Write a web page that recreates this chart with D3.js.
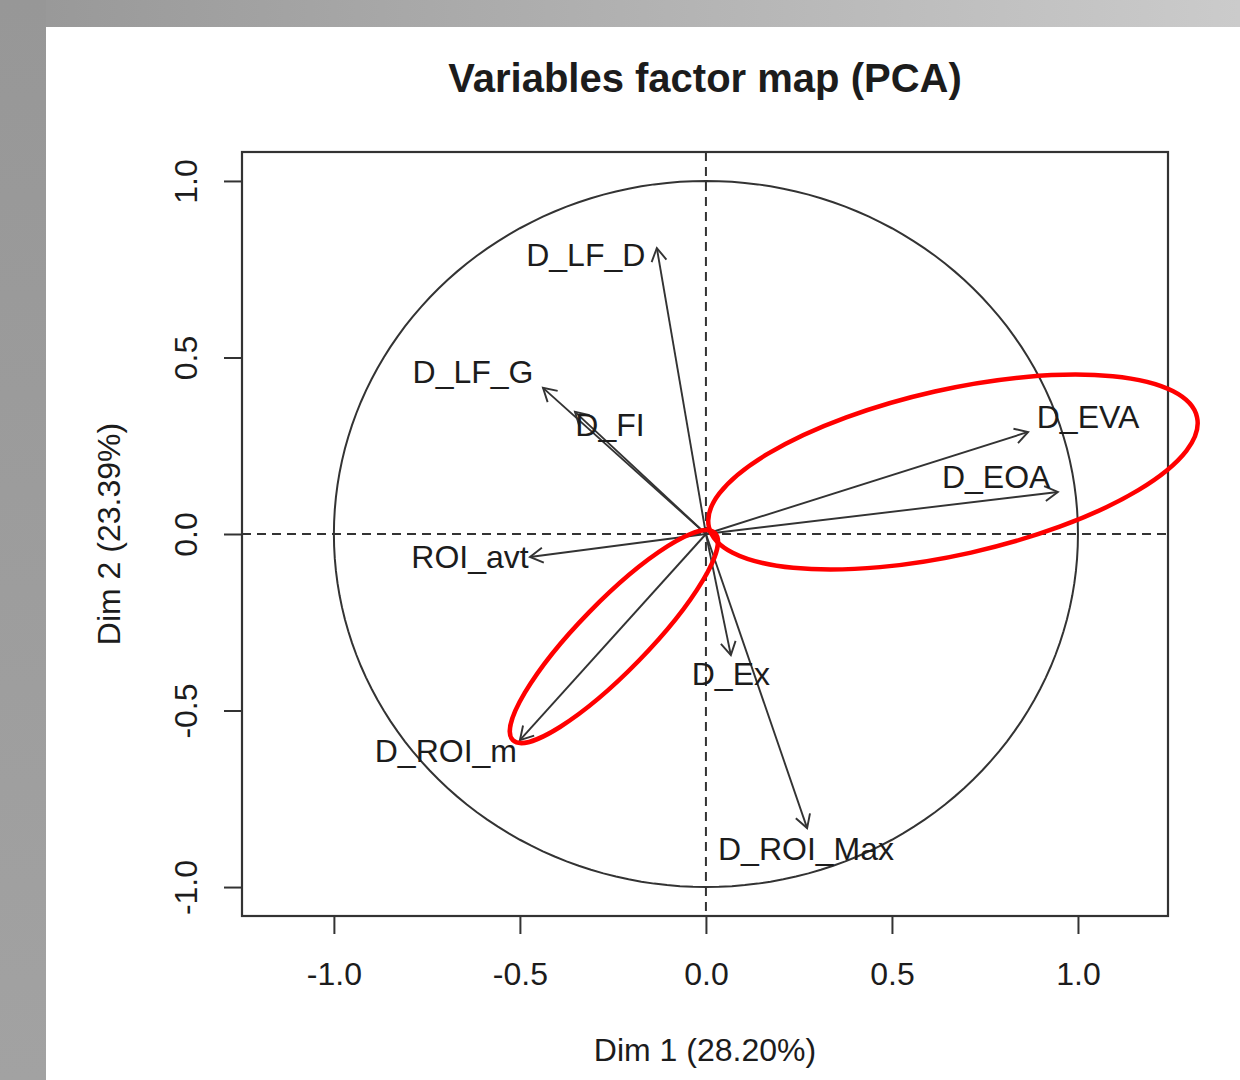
<!DOCTYPE html>
<html lang="en">
<head>
<meta charset="utf-8">
<script src="https://cdn.jsdelivr.net/npm/d3@7/dist/d3.min.js"></script>
<title>Variables factor map (PCA)</title>
<style>
  body { margin: 0; background: #fff; }
  text { font-family: "Liberation Sans", Arial, sans-serif; fill: #1c1c1c; }
</style>
</head>
<body>
<div id="chart"></div>
<script>
// variables and their coordinates on the first two dimensions
var varNames = ["D_LF_D", "D_LF_G", "D_FI", "ROI_avt", "D_ROI_m", "D_Ex", "D_ROI_Max", "D_EVA", "D_EOA"];
var dim1 = [-0.132, -0.438, -0.352, -0.473, -0.500, 0.067, 0.272, 0.866, 0.946];
var dim2 = [0.810, 0.414, 0.346, -0.065, -0.584, -0.343, -0.833, 0.289, 0.119];

// where each label sits (data units)
var labelX = [-0.323, -0.626, -0.258, -0.634, -0.699, 0.067, 0.269, 1.027, 0.780];
var labelY = [0.793, 0.459, 0.309, -0.065, -0.612, -0.394, -0.890, 0.334, 0.164];

var tickValues = [-1.0, -0.5, 0.0, 0.5, 1.0];
var xTitle = "Dim 1 (28.20%)";
var yTitle = "Dim 2 (23.39%)";
var title = "Variables factor map (PCA)";

// red highlight rings: major axis end points (data units) and minor/major ratio
var ringFrom = [[0.008, 0.020], [0.024, 0.003]];
var ringTo = [[1.320, 0.331], [-0.519, -0.584]];
var ringRatio = [0.33, 0.24];

var width = 1240, height = 1080;
var box = {left: 242, right: 1168, top: 152, bottom: 916};

var svg = d3.select("#chart").append("svg")
    .attr("width", width)
    .attr("height", height);

// slide-like background
var defs = svg.append("defs");
var topGrad = defs.append("linearGradient").attr("id", "topGrad");
topGrad.append("stop").attr("offset", "0%").attr("stop-color", "#979797");
topGrad.append("stop").attr("offset", "100%").attr("stop-color", "#cbcbcb");
var leftGrad = defs.append("linearGradient").attr("id", "leftGrad")
    .attr("x1", 0).attr("y1", 0).attr("x2", 0).attr("y2", 1);
leftGrad.append("stop").attr("offset", "0%").attr("stop-color", "#979797");
leftGrad.append("stop").attr("offset", "100%").attr("stop-color", "#a2a2a2");

svg.append("rect").attr("width", width).attr("height", 27).style("fill", "url(#topGrad)");
svg.append("rect").attr("y", 0).attr("width", 46).attr("height", height).style("fill", "url(#leftGrad)");
svg.append("rect").attr("x", 46).attr("y", 27).attr("width", width - 46).attr("height", height - 27).style("fill", "#fff");

// scales
var x = d3.scaleLinear().domain([-1.247, 1.242]).range([box.left, box.right]);
var y = d3.scaleLinear().domain([-1.082, 1.082]).range([box.bottom, box.top]);

// title
svg.append("text")
    .attr("x", 705)
    .attr("y", 92)
    .attr("text-anchor", "middle")
    .style("font-size", "40px")
    .style("font-weight", "bold")
    .text(title);

// axes
var fmt = function(d) { return d.toFixed(1); };

var xAxis = svg.append("g")
    .attr("transform", "translate(0," + box.bottom + ")")
    .call(d3.axisBottom(x).tickValues(tickValues).tickFormat(fmt).tickSize(18).tickPadding(0));
xAxis.select(".domain").remove();
xAxis.selectAll("line").style("stroke", "#333").style("stroke-width", 2);
xAxis.selectAll("text")
    .attr("y", 69).attr("dy", 0)
    .style("font-size", "32px").style("fill", "#1c1c1c");

var yAxis = svg.append("g")
    .attr("transform", "translate(" + box.left + ",0)")
    .call(d3.axisLeft(y).tickValues(tickValues).tickFormat(fmt).tickSize(18).tickPadding(0));
yAxis.select(".domain").remove();
yAxis.selectAll("line").style("stroke", "#333").style("stroke-width", 2);
yAxis.selectAll("text")
    .attr("transform", "rotate(-90)")
    .attr("x", 0).attr("y", -45).attr("dy", 0)
    .attr("text-anchor", "middle")
    .style("font-size", "32px").style("fill", "#1c1c1c");

// axis titles
svg.append("text")
    .attr("x", 705).attr("y", 1061)
    .attr("text-anchor", "middle")
    .style("font-size", "32px")
    .text(xTitle);

svg.append("text")
    .attr("transform", "translate(120," + y(0) + ") rotate(-90)")
    .attr("text-anchor", "middle")
    .style("font-size", "32px")
    .text(yTitle);

// plot box
svg.append("rect")
    .attr("x", box.left).attr("y", box.top)
    .attr("width", box.right - box.left).attr("height", box.bottom - box.top)
    .style("fill", "none").style("stroke", "#333").style("stroke-width", 2.2);

// dashed zero lines
svg.append("line")
    .attr("x1", box.left).attr("x2", box.right)
    .attr("y1", y(0)).attr("y2", y(0))
    .style("stroke", "#333").style("stroke-width", 2).style("stroke-dasharray", "9,6");
svg.append("line")
    .attr("x1", x(0)).attr("x2", x(0))
    .attr("y1", box.top).attr("y2", box.bottom)
    .style("stroke", "#333").style("stroke-width", 2).style("stroke-dasharray", "9,6");

// correlation circle
var circlePts = d3.range(0, 361, 2).map(function(a) {
    var r = a * Math.PI / 180;
    return [Math.cos(r), Math.sin(r)];
});
svg.append("path")
    .datum(circlePts)
    .attr("d", d3.line().x(function(d) { return x(d[0]); }).y(function(d) { return y(d[1]); }))
    .style("fill", "none").style("stroke", "#333").style("stroke-width", 2);

// arrows
var vars = varNames.map(function(n, i) {
    return {name: n, px: dim1[i], py: dim2[i], lx: labelX[i], ly: labelY[i]};
});

var arrows = svg.append("g");
vars.forEach(function(d) {
    var x0 = x(0), y0 = y(0), x1 = x(d.px), y1 = y(d.py);
    var ang = Math.atan2(y1 - y0, x1 - x0);
    var len = 15, spread = Math.PI / 6;
    arrows.append("line")
        .attr("x1", x0).attr("y1", y0).attr("x2", x1).attr("y2", y1)
        .style("stroke", "#333").style("stroke-width", 1.9);
    arrows.append("path")
        .attr("d", "M" + (x1 - len * Math.cos(ang - spread)) + "," + (y1 - len * Math.sin(ang - spread)) +
            "L" + x1 + "," + y1 +
            "L" + (x1 - len * Math.cos(ang + spread)) + "," + (y1 - len * Math.sin(ang + spread)))
        .style("fill", "none").style("stroke", "#333").style("stroke-width", 1.9);
});

// labels
svg.append("g").selectAll("text")
    .data(vars)
    .enter()
    .append("text")
    .attr("x", function(d) { return x(d.lx); })
    .attr("y", function(d) { return y(d.ly); })
    .attr("dy", "0.36em")
    .attr("text-anchor", "middle")
    .style("font-size", "32px")
    .text(function(d) { return d.name; });

// red rings
ringFrom.forEach(function(p, i) {
    var ax = x(p[0]), ay = y(p[1]);
    var bx = x(ringTo[i][0]), by = y(ringTo[i][1]);
    var cx = (ax + bx) / 2, cy = (ay + by) / 2;
    var rx = Math.hypot(bx - ax, by - ay) / 2;
    var rot = Math.atan2(by - ay, bx - ax) * 180 / Math.PI;
    svg.append("ellipse")
        .attr("transform", "translate(" + cx + "," + cy + ") rotate(" + rot + ")")
        .attr("rx", rx)
        .attr("ry", rx * ringRatio[i])
        .style("fill", "none")
        .style("stroke", "#ff0000")
        .style("stroke-width", 4.5);
});
</script>
</body>
</html>
